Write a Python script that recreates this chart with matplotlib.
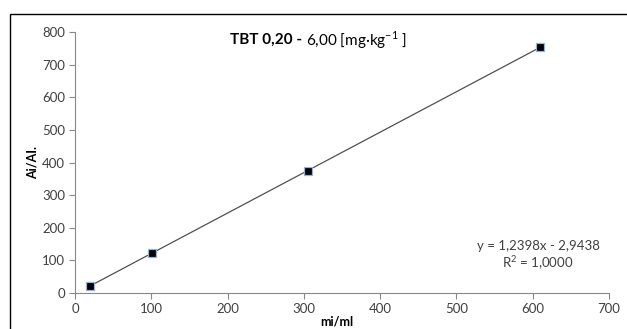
import matplotlib.pyplot as plt
from matplotlib.patches import Rectangle

plt.rcParams['font.family'] = ['Lato', 'DejaVu Sans']

# calibration points
conc = [20, 101, 305, 610]
ratio = [21.8, 122.3, 375.2, 753.3]

x_ticks = [0, 100, 200, 300, 400, 500, 600, 700]
y_ticks = [0, 100, 200, 300, 400, 500, 600, 700, 800]

W, H = 627, 329
fig = plt.figure(figsize=(W / 100, H / 100), dpi=100)
ax = fig.add_axes([75 / W, 36 / H, 534 / W, 261 / H])

ax.plot(conc, ratio, color='#505050', lw=0.9, zorder=2)
ax.plot(conc, ratio, ls='none', marker='s', ms=6, mfc='black',
        mec='#8db3e2', mew=0.9, zorder=3)

ax.set_xlim(0, 700)
ax.set_ylim(0, 800)
ax.set_xticks(x_ticks)
ax.set_yticks(y_ticks)
ax.tick_params(direction='out', length=4, width=0.8, color='#888888',
               labelsize=9.5, labelcolor='#404040', pad=3)
for s in ['top', 'right']:
    ax.spines[s].set_visible(False)
for s in ['left', 'bottom']:
    ax.spines[s].set_color('#888888')
    ax.spines[s].set_linewidth(0.8)

ax.set_ylabel('Ai/AI.', fontsize=9, fontweight='bold', labelpad=3)
fig.text(337 / W, 1 - 316 / H, 'mi/ml', fontsize=9, fontweight='bold',
         ha='center', va='top')

# title in two weights
fig.text(302 / W, 1 - 40 / H, 'TBT 0,20 -', fontsize=11, fontweight='bold',
         ha='right', va='center')
fig.text(306 / W, 1 - 40 / H, r'6,00 [mg·kg$^{\mathregular{-1}}$ ]',
         fontsize=11, ha='left', va='center')

fig.text(538 / W, 1 - 246 / H, 'y = 1,2398x - 2,9438', fontsize=9.5,
         color='#404040', ha='center', va='center')
fig.text(538 / W, 1 - 263 / H, r'R$^{\mathregular{2}}$ = 1,0000', fontsize=9.5,
         color='#404040', ha='center', va='center')

# outer chart frame
fig.patches.append(Rectangle((10 / W, -0.2), 1.0, (H - 14) / H + 0.2,
                             transform=fig.transFigure, fill=False,
                             edgecolor='black', lw=1.0))

fig.savefig('out.png', dpi=100)
